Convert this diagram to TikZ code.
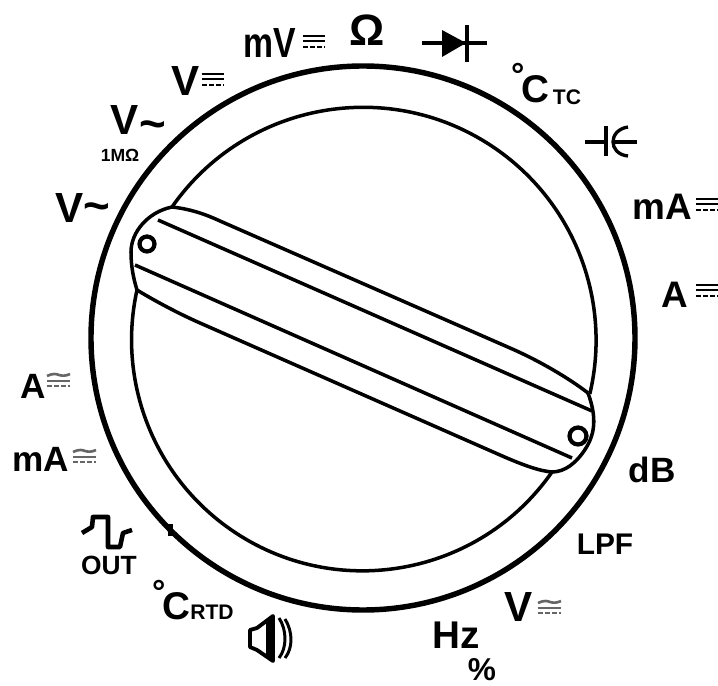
\documentclass[tikz,border=0pt]{standalone}
\usepackage{fontspec}
\setmainfont{Liberation Sans}
\usetikzlibrary{calc}
\newcommand{\degmark}[1]{\llap{\raisebox{#1}{\fontsize{19}{19}\selectfont °\kern-2pt}}}
\tikzset{
  dcbar/.pic={
    \draw[line width=1.4pt] (0,-7)--(22,-7);
    \draw[line width=1.2pt] (0,-2)--(22,-2);
    \draw[line width=1.6pt,dash pattern=on 3pt off 1pt] (0,4)--(22,4);
  },
  acdcbar/.pic={
    \draw[line width=1.5pt,black!60] (0,-5) .. controls (6,-8) and (10,-7) .. (12,-6) .. controls (15,-5) and (19,-5) .. (23,-7);
    \draw[line width=1.5pt,black!60] (0,0)--(23,0);
    \draw[line width=1.7pt,black!60,dash pattern=on 3pt off 1pt] (0,5)--(23,5);
  }
}
\begin{document}
\begin{tikzpicture}[x=0.02cm,y=-0.02cm,every node/.style={inner sep=0pt},
      lbl/.style={font=\fontsize{#1}{#1}\selectfont\bfseries},
      dialring/.style={line width=3.1pt},
      dialline/.style={line width=2pt},
      tildemark/.style={anchor=base,font=\fontsize{26}{26}\selectfont\bfseries}]
    \useasboundingbox (0,0) rectangle (718,686);
    \draw[dialring] (363,338) circle[radius=272];
    % Knob
    \draw[dialline] (172,207) arc[start angle=214.9,end angle=373.3,radius=233];
    \draw[dialline] (552,472) arc[start angle=34.9,end angle=192.5,radius=231];
    \draw[dialline] (172,207) .. controls (148,212) and (131,232) .. (131,252) .. controls (131,268) and (134,280) .. (137,290);
    \draw[dialline] (588,393) .. controls (596,415) and (596,432) .. (586,448) .. controls (576,464) and (564,472) .. (552,472);
    \draw[dialline] (172,207) .. controls (190,209) and (205,214) .. (220,221) -- (510,348) .. controls (540,361) and (570,379) .. (588,393);
    \draw[dialline] (158,220)--(592,411);
    \draw[dialline] (135,265)--(572,458);
    \draw[dialline] (137,290) .. controls (150,298) and (175,312) .. (200,323) -- (500,455) .. controls (525,466) and (540,471) .. (552,472);
    \draw[line width=2.4pt] (147,244) circle[radius=7.5];
    \draw[line width=2.4pt] (578,436) circle[radius=8.5];
    \fill (168,524) rectangle (173,536);
    % Top labels
    \node[lbl=24] (vacA) at (70,208) {V};
    \node[tildemark] (vacAw) at (97,222) {\textasciitilde};
    \node[lbl=24] (vacB) at (125,120) {V};
    \node[tildemark] (vacBw) at (153,140) {\textasciitilde};
    \node[lbl=10] (ohmA) at (120,155) {1MΩ};
    \node[lbl=24] (vdc) at (186,81) {V};
    \pic at (202,81) {dcbar};
    \node[lbl=24] (mvdc) at (270,43) {\scalebox{.8}[1]{mV}};
    \pic at (303,43) {dcbar};
    \node[lbl=25] (ohm) at (367,30) {Ω};
    \coordinate (dioL) at (422,43);
    \coordinate (dioR) at (487,43);
    \draw[line width=1.8pt] (dioL)--(dioR);
    \fill (442,30)--(442,57)--(466,43)--cycle;
    \draw[line width=2.2pt] (467,25)--(467,62);
    \node[lbl=22] (tcC) at (535,83) {\degmark{9pt}C};
    \node[lbl=12] (tcS) at (567,97) {TC};
    % Capacitor
    \draw[line width=1.9pt] (585,142)--(606,142);
    \draw[line width=2.2pt] (606,126)--(606,156);
    \draw[line width=1.9pt] (628,127) .. controls (608,130) and (608,154) .. (628,156);
    \draw[line width=1.9pt] (614,142)--(637,142);
    % Right labels
    \node[lbl=21] (madc) at (662,207) {mA};
    \pic at (696,206) {dcbar};
    \node[lbl=21] (adc) at (675,295) {A};
    \pic at (696,292) {dcbar};
    \node[lbl=20] (db) at (652,470) {dB};
    \node[lbl=17] (lpf) at (605,544) {LPF};
    \node[lbl=24] (vacdc) at (519,607) {V};
    \pic at (538,608) {acdcbar};
    \node[lbl=22] (hz) at (456,635) {Hz};
    \node[lbl=18] (pct) at (482,670) {\%};
    % Speaker
    \draw[line width=2.2pt,fill=white,line join=round] (250,630)--(257,628)--(273,616)--(273,661)--(257,650)--(250,647)--cycle;
    \fill (266,620)--(273,616)--(273,661)--(266,656)--cycle;
    \draw[line width=1.7pt] (279,618) .. controls (287,630) and (287,648) .. (279,658);
    \draw[line width=1.7pt] (285,619) .. controls (293,632) and (293,648) .. (285,658);
    % Left labels
    \node[lbl=22] (rtdC) at (176,600) {\degmark{9pt}C};
    \node[lbl=12] (rtdS) at (212,612) {RTD};
    \node[lbl=15] (out) at (109,565) {OUT};
    \draw[line width=2.6pt,line join=round] (82,533)--(92,527)--(93,517)--(108,517)--(108,547)--(120,547)--(123,533)--(132,530);
    \node[lbl=20] (macdc) at (41,459) {mA};
    \pic at (73,457) {acdcbar};
    \node[lbl=20] (acdc) at (33,386) {A};
    \pic at (47,381) {acdcbar};
  \end{tikzpicture}
\end{document}
